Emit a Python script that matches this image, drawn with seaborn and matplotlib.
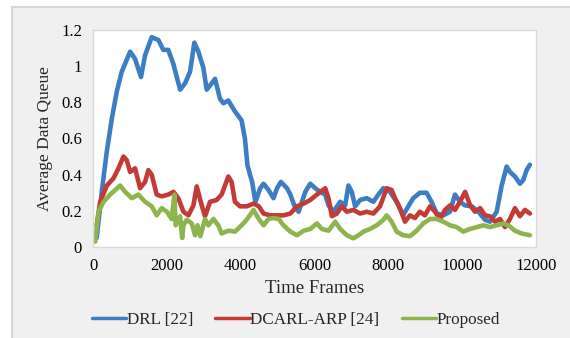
import matplotlib
matplotlib.use("Agg")
import matplotlib.pyplot as plt
from matplotlib.patches import Rectangle
from matplotlib.lines import Line2D
import seaborn as sns
import pandas as pd

# ---- data ----
drl_x = [100, 240, 375, 510, 645, 780, 1005, 1140, 1300, 1410, 1590, 1770, 1905, 2040,
         2180, 2360, 2495, 2630, 2745, 2855, 2990, 3080, 3215, 3305, 3440, 3530, 3665,
         3845, 4025, 4115, 4185, 4310, 4400, 4530, 4620, 4755, 4890, 4985, 5090, 5255,
         5345, 5480, 5570, 5750, 5885, 6020, 6155, 6290, 6380, 6515, 6695, 6830, 6920,
         7010, 7100, 7235, 7415, 7595, 7730, 7865, 8045, 8225, 8400, 8540, 8675, 8855,
         9035, 9170, 9310, 9490, 9670, 9805, 9940, 10080, 10260, 10440, 10620, 10755,
         10935, 11070, 11205, 11295, 11430, 11565, 11655, 11745, 11835]
drl_y = [0.05, 0.31, 0.53, 0.71, 0.86, 0.97, 1.08, 1.04, 0.94, 1.06, 1.16, 1.145, 1.09, 1.09,
         1.01, 0.87, 0.905, 0.97, 1.13, 1.08, 0.99, 0.87, 0.905, 0.93, 0.82, 0.795, 0.81,
         0.75, 0.70, 0.60, 0.45, 0.36, 0.25, 0.325, 0.35, 0.315, 0.27, 0.325, 0.36, 0.325,
         0.29, 0.215, 0.195, 0.305, 0.35, 0.325, 0.305, 0.29, 0.23, 0.195, 0.25, 0.23, 0.34,
         0.305, 0.225, 0.26, 0.27, 0.25, 0.29, 0.325, 0.305, 0.25, 0.175, 0.225, 0.27, 0.30,
         0.30, 0.25, 0.185, 0.175, 0.195, 0.29, 0.25, 0.23, 0.225, 0.195, 0.15, 0.14,
         0.195, 0.34, 0.445, 0.415, 0.39, 0.35, 0.37, 0.425, 0.455]

dcarl_x = [100, 195, 375, 555, 690, 825, 915, 1005, 1140, 1275, 1410, 1500, 1590, 1725,
           1860, 2040, 2180, 2310, 2450, 2585, 2720, 2810, 2945, 3035, 3170, 3350, 3485,
           3665, 3755, 3845, 3980, 4170, 4350, 4490, 4620, 4800, 4985, 5160, 5345, 5525,
           5705, 5885, 6065, 6290, 6380, 6470, 6605, 6740, 6875, 7055, 7235, 7415, 7595,
           7775, 7955, 8090, 8180, 8315, 8450, 8585, 8720, 8855, 8990, 9130, 9265, 9400,
           9535, 9670, 9805, 9940, 10080, 10215, 10350, 10485, 10620, 10755, 10890, 11025,
           11160, 11295, 11430, 11565, 11700, 11835]
dcarl_y = [0.12, 0.25, 0.34, 0.38, 0.435, 0.50, 0.48, 0.415, 0.435, 0.325, 0.36, 0.425, 0.40,
           0.29, 0.28, 0.29, 0.305, 0.27, 0.195, 0.175, 0.23, 0.335, 0.23, 0.17, 0.25, 0.26,
           0.29, 0.39, 0.36, 0.25, 0.225, 0.225, 0.24, 0.225, 0.185, 0.175, 0.175, 0.175,
           0.185, 0.225, 0.24, 0.26, 0.29, 0.325, 0.27, 0.17, 0.185, 0.225, 0.195, 0.205,
           0.185, 0.195, 0.185, 0.225, 0.325, 0.315, 0.27, 0.215, 0.14, 0.175, 0.16, 0.195,
           0.175, 0.225, 0.195, 0.155, 0.205, 0.23, 0.205, 0.25, 0.305, 0.23, 0.195, 0.215,
           0.175, 0.17, 0.14, 0.155, 0.11, 0.155, 0.215, 0.17, 0.205, 0.185]

prop_x = [60, 150, 285, 465, 600, 735, 870, 1050, 1230, 1410, 1590, 1725, 1860, 2000, 2130,
          2205, 2240, 2360, 2415, 2450, 2540, 2675, 2765, 2830, 2910, 3035, 3125, 3260, 3395,
          3485, 3665, 3845, 4025, 4160, 4350, 4490, 4620, 4755, 4890, 5030, 5160, 5345,
          5525, 5705, 5885, 6065, 6200, 6380, 6560, 6695, 6875, 7055, 7190, 7325, 7505,
          7685, 7865, 7955, 8090, 8225, 8400, 8585, 8765, 8945, 9130, 9310, 9490, 9670,
          9850, 10030, 10215, 10395, 10575, 10755, 10935, 11115, 11250, 11430, 11610, 11835]
prop_y = [0.03, 0.195, 0.25, 0.29, 0.315, 0.34, 0.305, 0.27, 0.29, 0.25, 0.225, 0.175, 0.215,
          0.195, 0.155, 0.29, 0.12, 0.17, 0.05, 0.12, 0.15, 0.13, 0.065, 0.12, 0.06, 0.155,
          0.12, 0.155, 0.12, 0.075, 0.09, 0.085, 0.12, 0.15, 0.205, 0.155, 0.12, 0.155, 0.16,
          0.155, 0.12, 0.085, 0.065, 0.09, 0.10, 0.13, 0.10, 0.09, 0.14, 0.10, 0.065, 0.048,
          0.065, 0.085, 0.10, 0.12, 0.15, 0.175, 0.14, 0.085, 0.065, 0.06, 0.09, 0.13, 0.155,
          0.155, 0.14, 0.12, 0.11, 0.085, 0.10, 0.11, 0.12, 0.11, 0.12, 0.13, 0.12, 0.09,
          0.075, 0.065]

labels = ["DRL [22]", "DCARL-ARP [24]", "Proposed"]
colors = ["#3D7DC3", "#C23B36", "#8EB54D"]
xticks = [0, 2000, 4000, 6000, 8000, 10000, 12000]
yticks = [0, 0.2, 0.4, 0.6, 0.8, 1.0, 1.2]
ytick_labels = ["0", "0.2", "0.4", "0.6", "0.8", "1", "1.2"]

sns.set_style("white")
plt.rcParams["font.family"] = ["Liberation Serif", "DejaVu Serif"]

W, H = 570, 338
fig = plt.figure(figsize=(W / 100, H / 100), dpi=100)
fig.patch.set_facecolor("white")
# gray panel with light border (top and left)
panel = Rectangle((12 / W, 0), 1 - 12 / W, (H - 7) / H, transform=fig.transFigure,
                  facecolor="#F0F0F0", edgecolor="none", zorder=-10)
fig.add_artist(panel)
fig.add_artist(Line2D([12 / W, 1], [(H - 7) / H, (H - 7) / H], transform=fig.transFigure,
                      color="#D6D6D6", lw=1.5, zorder=-9))
fig.add_artist(Line2D([12 / W, 12 / W], [0, (H - 7) / H], transform=fig.transFigure,
                      color="#D6D6D6", lw=1.5, zorder=-9))

ax = fig.add_axes([93 / W, (H - 247) / H, (536 - 93) / W, (247 - 30) / H])
ax.set_facecolor("white")
ax.set_zorder(1)

series = [(drl_x, drl_y), (dcarl_x, dcarl_y), (prop_x, prop_y)]
for (xs, ys), lab, c in zip(series, labels, colors):
    df = pd.DataFrame({"x": xs, "y": ys})
    sns.lineplot(data=df, x="x", y="y", ax=ax, color=c, lw=3.3, label=lab,
                 solid_joinstyle="round", solid_capstyle="round")

ax.set_xlim(0, 12000)
ax.set_ylim(0, 1.2)
ax.set_xticks(xticks)
ax.set_xticklabels([str(t) for t in xticks])
ax.set_yticks(yticks)
ax.set_yticklabels(ytick_labels)
ax.tick_params(axis="both", labelsize=12, colors="black", length=0, pad=8)
for s in ax.spines.values():
    s.set_color("#D9D9D9")
    s.set_linewidth(1.0)
ax.set_xlabel("Time Frames", fontsize=13.5, labelpad=4)
ax.set_ylabel("Average Data Queue", fontsize=12.5, labelpad=6)

ax.legend_.remove()
handles = [Line2D([0], [0], color=c, lw=2.5) for c in colors]
fig.legend(handles, labels, loc="center", bbox_to_anchor=(296 / W, (H - 320) / H),
           ncol=3, frameon=False, fontsize=12.3, handlelength=2.0, handletextpad=0.05,
           columnspacing=1.3)

fig.savefig("out.png", dpi=100, facecolor=fig.get_facecolor())
